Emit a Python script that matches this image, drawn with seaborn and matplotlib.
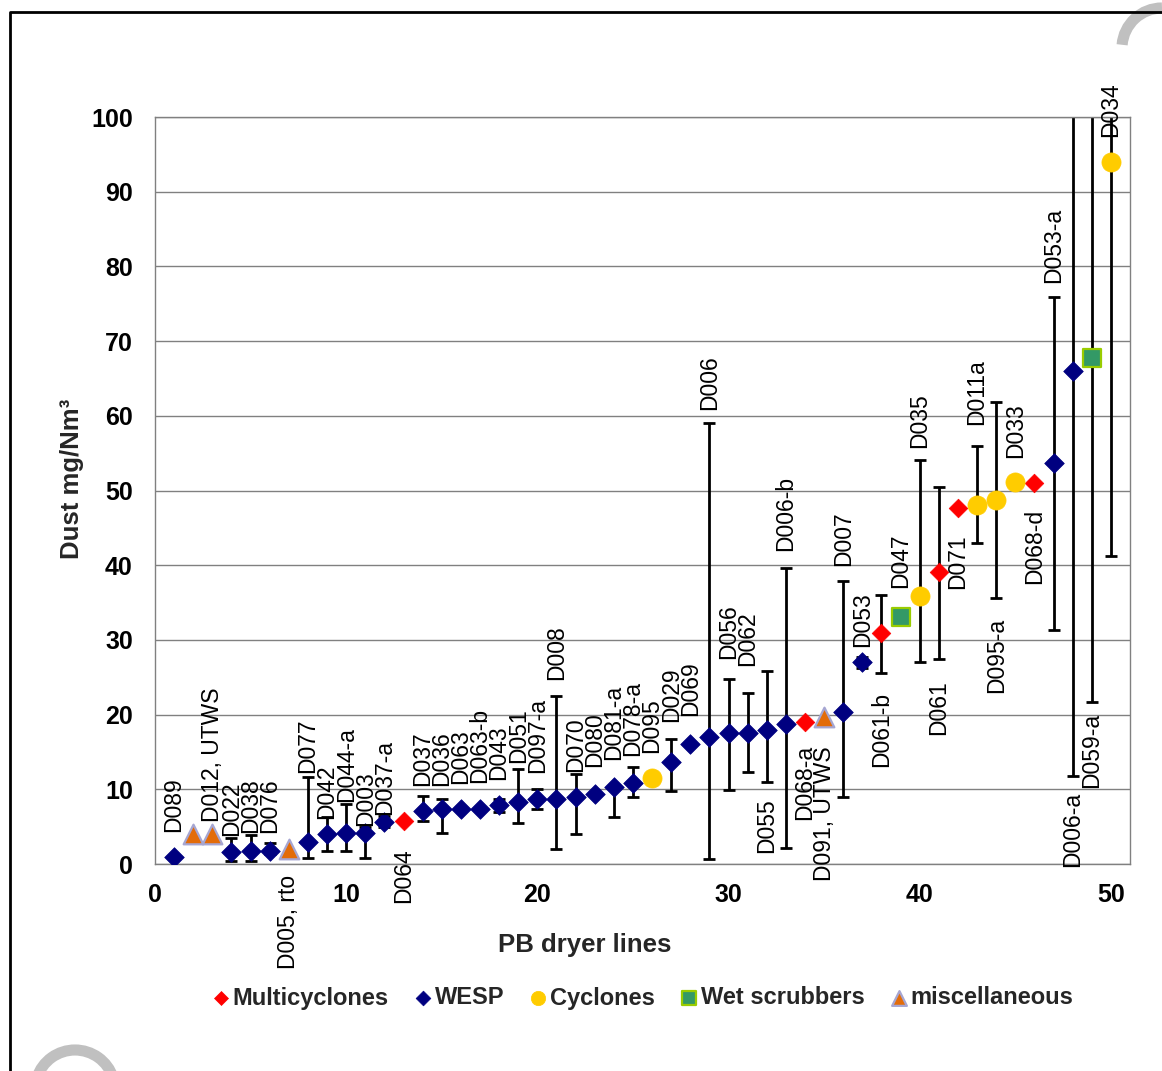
import numpy as np
import pandas as pd
import matplotlib
matplotlib.use("Agg")
import matplotlib.pyplot as plt
import seaborn as sns
from matplotlib.lines import Line2D
from matplotlib.patches import Arc

# PB dryer lines: abatement type, dust level and min/max range
lines = list(range(1, 51))
types = ["WESP", "miscellaneous", "miscellaneous", "WESP", "WESP", "WESP", "miscellaneous", "WESP", "WESP", "WESP",
         "WESP", "WESP", "Multicyclones", "WESP", "WESP", "WESP", "WESP", "WESP", "WESP", "WESP",
         "WESP", "WESP", "WESP", "WESP", "WESP", "Cyclones", "WESP", "WESP", "WESP", "WESP",
         "WESP", "WESP", "WESP", "Multicyclones", "miscellaneous", "WESP", "WESP", "Multicyclones", "Wet scrubbers", "Cyclones",
         "Multicyclones", "Multicyclones", "Cyclones", "Cyclones", "Cyclones", "Multicyclones", "WESP", "WESP", "Wet scrubbers", "Cyclones"]
dust = [1.0, 4.0, 4.0, 1.6, 1.7, 1.7, 2.0, 2.9, 4.0, 4.1,
        4.2, 5.6, 5.8, 7.1, 7.4, 7.4, 7.4, 7.9, 8.3, 8.7,
        8.7, 9.0, 9.4, 10.3, 10.8, 11.5, 13.6, 16.1, 17.05, 17.5,
        17.6, 18.0, 18.8, 19.0, 19.7, 20.4, 27.0, 30.9, 33.1, 35.9,
        39.1, 47.7, 48.1, 48.75, 51.1, 51.0, 53.7, 66.0, 67.8, 94.0]
nan = np.nan
dust_min = [nan, nan, nan, 0.4, 0.4, 1.3, nan, 0.8, 1.8, 1.8,
            0.8, 5.0, nan, 5.8, 4.2, nan, nan, 7.0, 5.5, 7.3,
            2.0, 4.0, nan, 6.3, 9.0, nan, 9.8, nan, 0.7, 9.9,
            12.3, 11.0, 2.2, nan, nan, 9.0, 26.3, 25.6, nan, 27.0,
            27.4, nan, 43.0, 35.6, nan, nan, 31.3, 11.8, 21.7, 41.2]
dust_max = [nan, nan, nan, 3.5, 3.9, 2.8, nan, 11.6, 6.3, 8.0,
            5.0, 6.4, nan, 9.1, 8.7, nan, nan, 8.7, 12.7, 10.0,
            22.5, 12.0, nan, 10.6, 13.0, nan, 16.8, nan, 59.0, 24.7,
            22.9, 25.9, 39.6, nan, nan, 37.9, 27.7, 36.0, nan, 54.1,
            50.5, nan, 56.0, 61.8, nan, nan, 75.9, 110.0, 110.0, 110.0]
names = ["D089", "", "D012, UTWS", "D022", "D038", "D076", "D005, rto", "D077", "D042", "D044-a",
         "D003", "D037-a", "D064", "D037", "D036", "D063", "D063-b", "D043", "D051", "D097-a",
         "D008", "D070", "D080", "D081-a", "D078-a", "D095", "D029", "D069", "D006", "D056",
         "D062", "D055", "D006-b", "D068-a", "D091, UTWS", "D007", "D053", "D061-b", "D047", "D035",
         "D061", "D071", "D011a", "D095-a", "D033", "D068-d", "D053-a", "D006-a", "D059-a", "D034"]
# label placement: above (u) or below (d) the point, and the anchor level
label_side = ["u", "u", "u", "u", "u", "u", "d", "u", "u", "u",
              "u", "u", "d", "u", "u", "u", "u", "u", "u", "u",
              "u", "u", "u", "u", "u", "u", "u", "u", "u", "u",
              "u", "d", "u", "d", "d", "u", "u", "d", "u", "u",
              "d", "d", "u", "d", "u", "d", "u", "d", "d", "u"]
label_y = [4.3, 0, 5.6, 3.7, 4.2, 4.2, -1.5, 12.2, 6.0, 8.3,
           5.1, 6.6, 2.1, 10.5, 10.5, 10.7, 10.8, 11.2, 13.5, 12.2,
           24.6, 12.3, 13.0, 13.9, 14.4, 14.8, 19.0, 19.8, 60.8, 27.4,
           26.5, 8.8, 41.9, 15.9, 15.7, 39.9, 29.0, 23.0, 36.9, 55.7,
           24.6, 44.1, 58.8, 32.9, 54.3, 47.6, 77.8, 9.7, 20.2, 97.3]

df = pd.DataFrame({"line": lines, "type": types, "dust": dust,
                   "lo": dust_min, "hi": dust_max, "name": names})

sns.set_theme(style="white")
plt.rcParams["font.family"] = ["Liberation Sans", "DejaVu Sans"]

fig = plt.figure(figsize=(11.62, 10.71), dpi=100)
ax = fig.add_axes([155 / 1162, 1 - 864 / 1071, 975 / 1162, 747 / 1071])

# error bars
eb = df.dropna(subset=["lo"])
ax.errorbar(eb["line"], eb["dust"], yerr=[eb["dust"] - eb["lo"], eb["hi"] - eb["dust"]],
            fmt="none", ecolor="black", elinewidth=2, capsize=4.3, capthick=2, zorder=2)

styles = {
    "Multicyclones": dict(marker="D", s=90, color="#ff0000", edgecolor="#ff0000", linewidth=0.5),
    "WESP": dict(marker="D", s=100, color="#000080", edgecolor="#000080", linewidth=0.5),
    "Cyclones": dict(marker="o", s=190, color="#ffcc00", edgecolor="#ffcc00", linewidth=0.5),
    "Wet scrubbers": dict(marker="s", s=160, color="#339966", edgecolor="#99cc00", linewidth=1.6),
    "miscellaneous": dict(marker="^", s=200, color="#e36c09", edgecolor="#a6a6d2", linewidth=1.6),
}
for t, st in styles.items():
    sub = df[df["type"] == t]
    sns.scatterplot(data=sub, x="line", y="dust", ax=ax, label=t, zorder=3, **st)

handles, labels = ax.get_legend_handles_labels()
ax.get_legend().remove()

# point labels
for _, r in df.iterrows():
    i = r["line"] - 1
    if not names[i]:
        continue
    ax.text(r["line"], label_y[i], names[i], rotation=90, ha="center",
            va="bottom" if label_side[i] == "u" else "top", fontsize=16.5, color="black")

ax.set_xlim(0, 51)
ax.set_ylim(0, 100)
ax.set_xticks(range(0, 51, 10))
ax.set_yticks(range(0, 101, 10))
ax.yaxis.grid(True, color="#808080", lw=1)
ax.set_axisbelow(True)
for sp in ax.spines.values():
    sp.set_color("#808080")
    sp.set_linewidth(1)
ax.tick_params(axis="both", direction="inout", length=8, width=1, color="#808080",
               labelsize=18, labelcolor="black")
ax.tick_params(axis="x", pad=10)
ax.tick_params(axis="y", pad=12)
for lab in ax.get_xticklabels() + ax.get_yticklabels():
    lab.set_fontweight("bold")

ax.set_xlabel("PB dryer lines", fontsize=18.5, fontweight="bold")
ax.set_ylabel("Dust mg/Nm³", fontsize=18.5, fontweight="bold")
ax.xaxis.set_label_coords(0.441, -0.092)
ax.yaxis.set_label_coords(-0.073, 0.515)

fig.legend(handles, labels, loc="center", bbox_to_anchor=(643 / 1162, 1 - 998 / 1071), ncol=5,
           frameon=False, markerscale=0.75, handletextpad=0.15, columnspacing=1.1,
           prop={"weight": "bold", "size": 17}, handlelength=0.7)

# page frame and watermark fragments
fig.add_artist(Line2D([10 / 1162, 10 / 1162, 1.0], [0.0, 1 - 12 / 1071, 1 - 12 / 1071],
                      transform=fig.transFigure, color="black", lw=2))
fig.add_artist(Arc((75 / 1162, 1 - 1090 / 1071), 80 / 1162, 80 / 1071, theta1=20, theta2=160,
                   transform=fig.transFigure, color="#c0c0c0", lw=8))
fig.add_artist(Arc((1162 / 1162, 1 - 48 / 1071), 80 / 1162, 80 / 1071, theta1=90, theta2=175,
                   transform=fig.transFigure, color="#c0c0c0", lw=8))

fig.savefig("out.png", dpi=100)
